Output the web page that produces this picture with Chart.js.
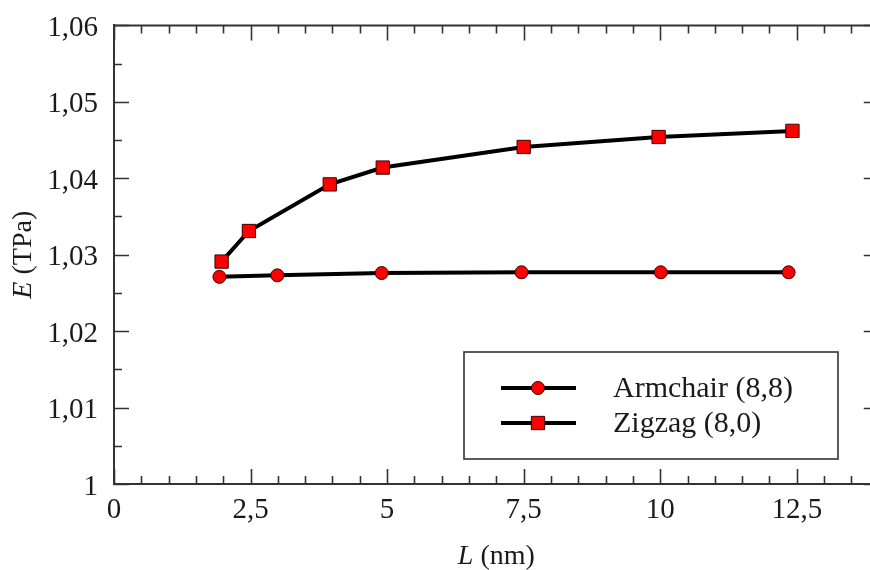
<!DOCTYPE html>
<html>
<head>
<meta charset="utf-8">
<title>E vs L</title>
<script src="https://cdn.jsdelivr.net/npm/chart.js@4.4.0/dist/chart.umd.min.js"></script>
<style>
  html, body { margin:0; padding:0; background:#fff; overflow:hidden; }
  #wrap { width:870px; height:570px; }
</style>
</head>
<body>
<div id="wrap"><canvas id="chart" width="870" height="570"></canvas></div>
<script>
// tube length L (nm) and Young's modulus E (TPa)
const armchairL = [1.93, 2.99, 4.90, 7.46, 10.01, 12.35];
const armchairE = [1.0271, 1.0273, 1.0276, 1.0277, 1.0277, 1.0277];
const zigzagL = [1.97, 2.47, 3.95, 4.92, 7.50, 9.97, 12.42];
const zigzagE = [1.0291, 1.0331, 1.0392, 1.0414, 1.0441, 1.0454, 1.0462];

const seriesNames = ['Armchair (8,8)', 'Zigzag (8,0)'];
const xTicks = [0, 2.5, 5, 7.5, 10, 12.5];
const xVisibleMax = 13.84;   // the frame runs on to L = 14, past the canvas edge
const xFrameMax = 14;
const xMinorStep = 0.5;
const yMinorStep = 0.005;

const SERIF = '"Liberation Serif", "DejaVu Serif", serif';
const INK = '#1a1a1a';
const AXIS = '#333';

const toPoints = (xs, ys) => xs.map((x, i) => ({ x: x, y: ys[i] }));
const commaNum = (v, d) => {
  const s = (+v.toFixed(d)).toString();
  return s.replace('.', ',');
};

// inward tick marks on all four sides, plus the top/right frame
const frameTicks = {
  id: 'frameTicks',
  afterDraw(chart) {
    const { ctx, chartArea: a, scales: { x, y } } = chart;
    const right = x.getPixelForValue(xFrameMax);
    ctx.save();
    ctx.strokeStyle = AXIS;
    ctx.lineWidth = 2;
    ctx.beginPath();
    ctx.moveTo(a.left, a.top); ctx.lineTo(right, a.top); ctx.lineTo(right, a.bottom);
    ctx.stroke();

    ctx.lineWidth = 1.6;
    ctx.beginPath();
    for (let v = 0; v <= xFrameMax + 1e-9; v += xMinorStep) {
      const px = Math.round(x.getPixelForValue(v)) + 0.5;
      const major = Math.abs(v / 2.5 - Math.round(v / 2.5)) < 1e-6;
      const len = major ? 15 : 8;
      ctx.moveTo(px, a.bottom); ctx.lineTo(px, a.bottom - len);
      ctx.moveTo(px, a.top); ctx.lineTo(px, a.top + len);
    }
    for (let v = y.min; v <= y.max + 1e-9; v += yMinorStep) {
      const py = Math.round(y.getPixelForValue(v)) + 0.5;
      const major = Math.abs(v / 0.01 - Math.round(v / 0.01)) < 1e-6;
      const len = major ? 15 : 8;
      ctx.moveTo(a.left, py); ctx.lineTo(a.left + len, py);
      ctx.moveTo(right, py); ctx.lineTo(right - len, py);
    }
    ctx.stroke();
    ctx.restore();
  }
};

// axis titles with italic symbols
const axisTitles = {
  id: 'axisTitles',
  afterDraw(chart) {
    const { ctx, chartArea: a, scales: { x } } = chart;
    const drawMixed = (parts, cx, cy) => {
      let w = 0;
      parts.forEach(p => { ctx.font = p.font; w += ctx.measureText(p.text).width; });
      let xx = cx - w / 2;
      parts.forEach(p => {
        ctx.font = p.font;
        ctx.fillText(p.text, xx, cy);
        xx += ctx.measureText(p.text).width;
      });
    };
    ctx.save();
    ctx.fillStyle = INK;
    ctx.textBaseline = 'middle';
    ctx.textAlign = 'left';
    drawMixed([
      { text: 'L', font: 'italic 28px ' + SERIF },
      { text: ' (nm)', font: '28px ' + SERIF }
    ], (a.left + x.getPixelForValue(xFrameMax)) / 2, 557);
    ctx.translate(24, (a.top + a.bottom) / 2);
    ctx.rotate(-Math.PI / 2);
    drawMixed([
      { text: 'E', font: 'italic 28px ' + SERIF },
      { text: ' (TPa)', font: '28px ' + SERIF }
    ], 0, 0);
    ctx.restore();
  }
};

// boxed legend in the lower right
const boxLegend = {
  id: 'boxLegend',
  afterDraw(chart) {
    const { ctx } = chart;
    const box = { l: 464, t: 352, r: 838, b: 459 };
    ctx.save();
    ctx.fillStyle = '#fff';
    ctx.fillRect(box.l, box.t, box.r - box.l, box.b - box.t);
    ctx.strokeStyle = AXIS;
    ctx.lineWidth = 1.6;
    ctx.strokeRect(box.l, box.t, box.r - box.l, box.b - box.t);
    const rows = [388, 423];
    chart.data.datasets.forEach((ds, i) => {
      const yy = rows[i];
      ctx.strokeStyle = ds.borderColor;
      ctx.lineWidth = ds.borderWidth;
      ctx.beginPath();
      ctx.moveTo(501, yy); ctx.lineTo(576, yy);
      ctx.stroke();
      ctx.fillStyle = ds.pointBackgroundColor;
      ctx.strokeStyle = ds.pointBorderColor;
      ctx.lineWidth = ds.pointBorderWidth;
      Chart.helpers.drawPoint(ctx, { pointStyle: ds.pointStyle, radius: ds.pointRadius, borderWidth: ds.pointBorderWidth }, 538, yy);
      ctx.fillStyle = INK;
      ctx.font = '30px ' + SERIF;
      ctx.textAlign = 'left';
      ctx.textBaseline = 'middle';
      ctx.fillText(ds.label, 613, yy + 1);
    });
    ctx.restore();
  }
};

new Chart(document.getElementById('chart'), {
  type: 'line',
  data: {
    datasets: [
      {
        label: seriesNames[0],
        data: toPoints(armchairL, armchairE),
        borderColor: '#000',
        borderWidth: 4,
        pointStyle: 'circle',
        pointRadius: 6.5,
        pointBackgroundColor: '#ff0000',
        pointBorderColor: '#3a0000',
        pointBorderWidth: 1,
        tension: 0
      },
      {
        label: seriesNames[1],
        data: toPoints(zigzagL, zigzagE),
        borderColor: '#000',
        borderWidth: 4,
        pointStyle: 'rect',
        pointRadius: 9.4,
        pointBackgroundColor: '#ff0000',
        pointBorderColor: '#3a0000',
        pointBorderWidth: 1,
        tension: 0
      }
    ]
  },
  options: {
    responsive: false,
    animation: false,
    events: [],
    layout: { autoPadding: false, padding: { top: 22, right: 0, left: 0, bottom: 0 } },
    plugins: { legend: { display: false }, tooltip: { enabled: false } },
    scales: {
      x: {
        type: 'linear',
        min: 0,
        max: xVisibleMax,
        afterBuildTicks: s => { s.ticks = xTicks.map(v => ({ value: v })); },
        afterFit: s => { s.height = 86; s.paddingRight = 0; },
        grid: { display: false },
        border: { display: true, color: AXIS, width: 2 },
        ticks: {
          color: INK,
          font: { family: SERIF, size: 29 },
          padding: 1,
          maxRotation: 0,
          callback: v => commaNum(v, 1)
        }
      },
      y: {
        type: 'linear',
        min: 1,
        max: 1.06,
        afterFit: s => { s.width = 114; },
        grid: { display: false },
        border: { display: true, color: AXIS, width: 2 },
        ticks: {
          color: INK,
          font: { family: SERIF, size: 29 },
          padding: 8,
          labelOffset: 3,
          stepSize: 0.01,
          callback: v => commaNum(v, 2)
        }
      }
    }
  },
  plugins: [frameTicks, axisTitles, boxLegend]
});
</script>
</body>
</html>
